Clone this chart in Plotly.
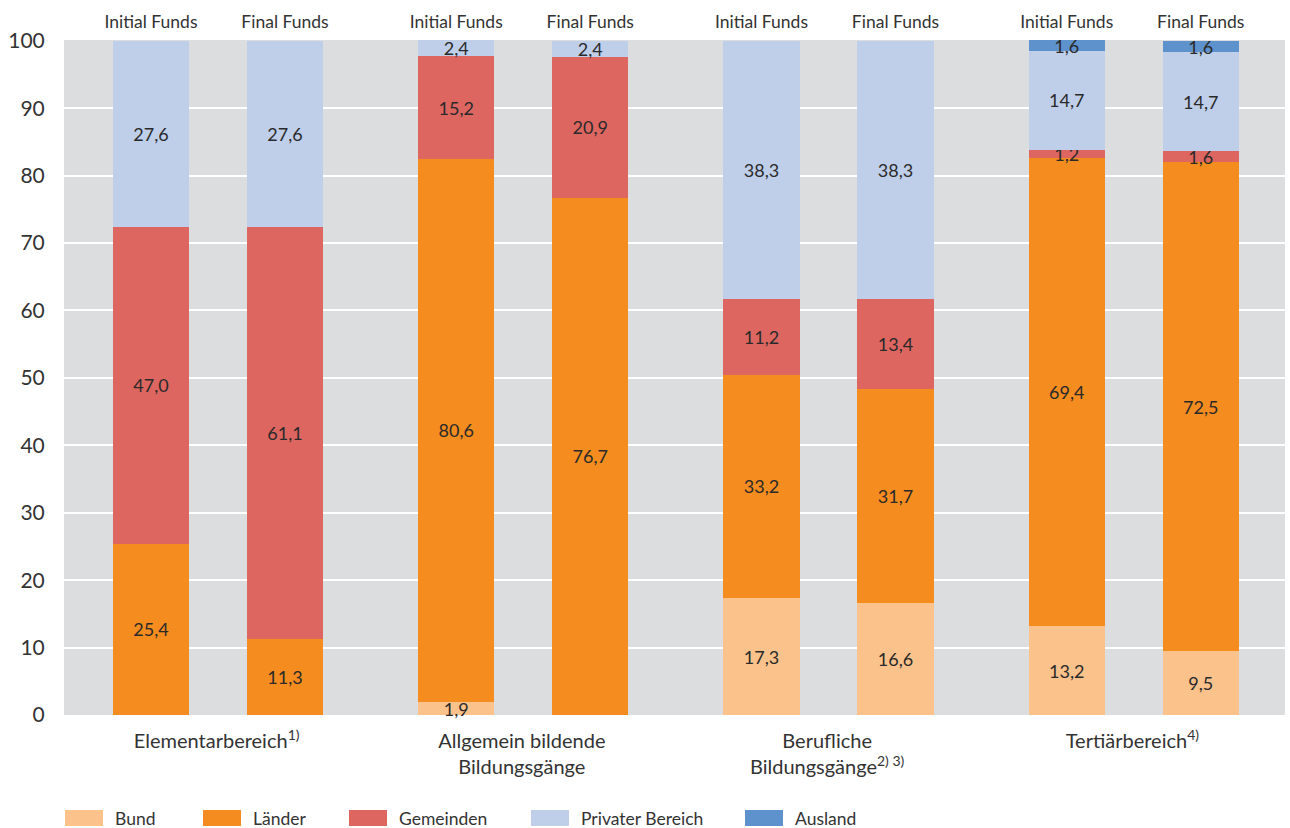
import plotly.graph_objects as go

categories = ["Elementarbereich<sup>1)</sup>",
              "Allgemein bildende<br>Bildungsgänge",
              "Berufliche<br>Bildungsgänge<sup>2) 3)</sup>",
              "Tertiärbereich<sup>4)</sup>"]
fund_types = ["Initial Funds", "Final Funds"]
series_names = ["Bund", "Länder", "Gemeinden", "Privater Bereich", "Ausland"]
series_colors = ["#FBC28B", "#F58C20", "#DE6661", "#BFCFEA", "#5E92CC"]

# values per bar: order = Elem-Init, Elem-Final, Allg-Init, Allg-Final, Ber-Init, Ber-Final, Tert-Init, Tert-Final
bund =      [None, None, 1.9, None, 17.3, 16.6, 13.2, 9.5]
laender =   [25.4, 11.3, 80.6, 76.7, 33.2, 31.7, 69.4, 72.5]
gemeinden = [47.0, 61.1, 15.2, 20.9, 11.2, 13.4, 1.2, 1.6]
privat =    [27.6, 27.6, 2.4, 2.4, 38.3, 38.3, 14.7, 14.7]
ausland =   [None, None, None, None, None, None, 1.6, 1.6]
series_values = [bund, laender, gemeinden, privat, ausland]

offsets = [-0.215, 0.224]
xpos = [i + o for i in range(len(categories)) for o in offsets]
toplabels = [f for _ in categories for f in fund_types]

def fmt(v):
    return f"{v:.1f}".replace(".", ",")

fig = go.Figure()
for name, color, vals in zip(series_names, series_colors, series_values):
    xs = [x for x, v in zip(xpos, vals) if v is not None]
    ys = [v for v in vals if v is not None]
    fig.add_trace(go.Bar(
        x=xs, y=ys, name=name, marker=dict(color=color, line=dict(width=0)),
        width=0.25, text=[fmt(v) for v in ys], textposition="inside",
        insidetextanchor="middle", textangle=0,
        textfont=dict(family="Lato", size=18, color="#2a2a2a"),
        showlegend=False, cliponaxis=False,
    ))

# invisible trace for top axis
fig.add_trace(go.Scatter(x=xpos, y=[0]*len(xpos), xaxis="x2", mode="markers",
                         marker=dict(opacity=0), showlegend=False, hoverinfo="skip"))

fig.update_layout(
    barmode="stack",
    width=1290, height=828,
    margin=dict(l=64, r=5, t=40, b=113),
    paper_bgcolor="white", plot_bgcolor="#DCDDDF",
    font=dict(family="Lato", color="#333333"),
    uniformtext=dict(minsize=18, mode="show"),
    xaxis=dict(range=[-0.5, 3.5], tickvals=list(range(len(categories))), ticktext=categories,
               showgrid=False, zeroline=False, ticks="outside", ticklen=8,
               tickcolor="rgba(0,0,0,0)", tickfont=dict(family="Lato", size=20, color="#333333")),
    xaxis2=dict(range=[-0.5, 3.5], overlaying="x", side="top", tickvals=xpos, ticktext=toplabels,
                showgrid=False, zeroline=False, ticks="outside", ticklen=4,
                tickcolor="rgba(0,0,0,0)", tickfont=dict(family="Lato", size=17.5, color="#333333")),
    yaxis=dict(range=[0, 100.12], tickvals=list(range(0, 101, 10)), showgrid=False,
               zeroline=False, ticks="outside", ticklen=14,
               tickcolor="rgba(0,0,0,0)", tickfont=dict(family="Lato", size=21, color="#333333"),
               minor=dict(tickvals=list(range(10, 100, 10)), showgrid=True,
                          gridcolor="white", gridwidth=2, ticks="")),
    showlegend=False,
)

# manual legend (swatch + label)
legend_x = [65, 203, 349, 531, 745]
for name, color, lx in zip(series_names, series_colors, legend_x):
    x0 = (lx - 64) / 1221
    x1 = (lx + 38 - 64) / 1221
    fig.add_shape(type="rect", xref="paper", yref="paper", x0=x0, x1=x1,
                  y0=-(826 - 715) / 675, y1=-(810 - 715) / 675,
                  fillcolor=color, line=dict(width=0))
    fig.add_annotation(xref="paper", yref="paper", x=(lx + 48 - 64) / 1221,
                       y=-(818 - 715) / 675, text=name, showarrow=False,
                       xanchor="left", yanchor="middle",
                       font=dict(family="Lato", size=17.5, color="#333333"))

fig.write_html("out.html", config={"displayModeBar": False},
               post_script="document.body.style.margin='0';document.body.style.overflow='hidden';")
